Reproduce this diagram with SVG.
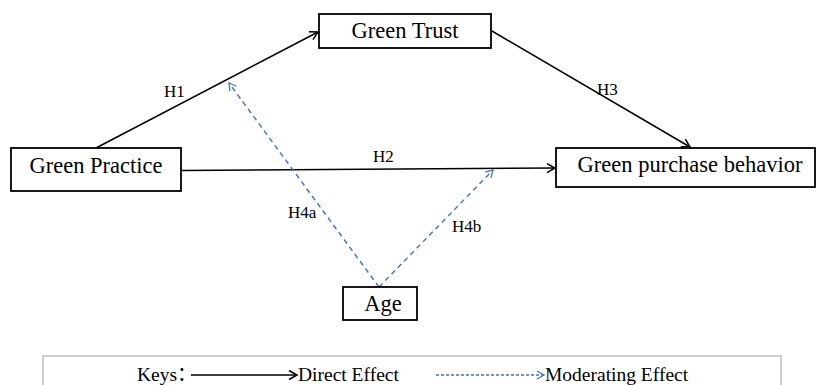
<svg xmlns="http://www.w3.org/2000/svg" width="816" height="385" viewBox="0 0 816 385">
<style>
.box{fill:#fff;stroke:#000;stroke-width:1.8}
.lbl{font-family:"Liberation Serif","Times New Roman",serif;font-size:22.5px;fill:#000}
.h{font-family:"Liberation Serif","Times New Roman",serif;font-size:17px;fill:#000}
.key{font-family:"Liberation Serif","Noto Sans CJK SC",serif;font-size:19.5px;fill:#000}
.direct{stroke:#000;stroke-width:1.5;fill:none;marker-end:url(#ab)}
.mod{stroke:#4472C4;stroke-width:1.4;fill:none;stroke-dasharray:5 4;marker-end:url(#au)}
</style>
<defs>
<marker id="ab" markerUnits="userSpaceOnUse" markerWidth="12" markerHeight="12" viewBox="-10 -6 12 12" refX="0" refY="0" orient="auto">
<path d="M-8,-4.5 L0,0 L-8,4.5" fill="none" stroke="#000" stroke-width="1.5"/>
</marker>
<marker id="au" markerUnits="userSpaceOnUse" markerWidth="12" markerHeight="12" viewBox="-10 -6 12 12" refX="0" refY="0" orient="auto">
<path d="M-7,-4 L0,0 L-7,4" fill="none" stroke="#4472C4" stroke-width="1.3"/>
</marker>
</defs>
<g id="connectors">
<line class="direct" x1="96" y1="148" x2="318" y2="32"/>
<line class="direct" x1="492" y1="31" x2="690" y2="147"/>
<line class="direct" x1="182" y1="170.5" x2="555" y2="168"/>
<line class="mod" x1="379" y1="287" x2="229" y2="83"/>
<line class="mod" x1="379" y1="287" x2="493" y2="170"/>
<text class="h" x="164" y="97">H1</text>
<text class="h" x="597" y="95">H3</text>
<text class="h" x="373" y="162">H2</text>
<text class="h" x="288" y="218">H4a</text>
<text class="h" x="452" y="232">H4b</text>
</g>
<g id="green-trust">
<rect class="box" x="319" y="14" width="172" height="34"/>
<text class="lbl" x="405" y="38" text-anchor="middle">Green Trust</text>
</g>
<g id="green-practice">
<rect class="box" x="11" y="148" width="170" height="43"/>
<text class="lbl" x="96" y="173" text-anchor="middle">Green Practice</text>
</g>
<g id="green-purchase-behavior">
<rect class="box" x="556" y="148" width="259" height="39"/>
<text class="lbl" x="690" y="172" text-anchor="middle">Green purchase behavior</text>
</g>
<g id="age">
<rect class="box" x="343" y="287" width="74" height="33"/>
<text class="lbl" x="383" y="311" text-anchor="middle">Age</text>
</g>
<g id="keys">
<rect x="43" y="356" width="738" height="40" fill="#fff" stroke="#bfbfbf" stroke-width="1.5"/>
<text class="key" x="137" y="381">Keys：</text>
<line x1="191" y1="375" x2="297" y2="375" stroke="#000" stroke-width="1.5" marker-end="url(#ab)"/>
<text class="key" x="298" y="381">Direct Effect</text>
<line x1="436" y1="375" x2="544" y2="375" stroke="#4472C4" stroke-width="1.3" stroke-dasharray="3 2" marker-end="url(#au)"/>
<text class="key" x="545" y="381">Moderating Effect</text>
</g>
</svg>
